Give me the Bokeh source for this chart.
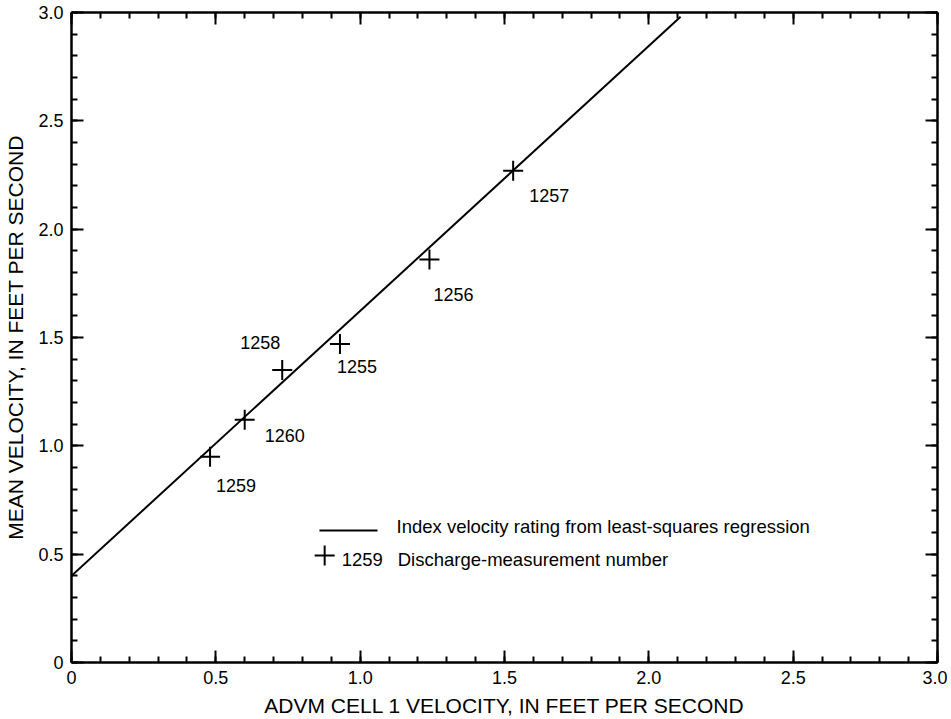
from bokeh.plotting import figure
from bokeh.models import Range1d, LinearAxis, FixedTicker, CustomJSTickFormatter, ColumnDataSource
from bokeh.core.properties import value
from bokeh.embed import file_html
from bokeh.resources import INLINE

# ---------------- data ----------------
meas_numbers = ["1255", "1256", "1257", "1258", "1259", "1260"]
advm_velocity = [0.93, 1.24, 1.53, 0.73, 0.48, 0.60]   # ADVM cell 1 velocity, ft/s
mean_velocity = [1.47, 1.86, 2.27, 1.35, 0.95, 1.12]   # mean velocity, ft/s

# index velocity rating (least-squares regression) end points
rating_x = [0.0, 2.11]
rating_y = [0.40, 2.98]

x_tick_values = [0.0, 0.5, 1.0, 1.5, 2.0, 2.5, 3.0]
y_tick_values = [0.0, 0.5, 1.0, 1.5, 2.0, 2.5, 3.0]

legend_line_label = "Index velocity rating from least-squares regression"
legend_point_number = "1259"
legend_point_label = "Discharge-measurement number"

# ---------------- layout / style ----------------
FONT = "Liberation Sans"
label_dx = [-3, 4, 16, -42, 6, 20]     # pixel offsets of point labels
label_dy = [22, 35, 25, -28, 29, 16]

p = figure(frame_width=866, frame_height=650,
           x_range=Range1d(0, 3), y_range=Range1d(0, 3),
           output_backend="svg", toolbar_location=None,
           min_border_left=71, min_border_right=10, min_border_top=12, min_border_bottom=57,
           x_axis_label="ADVM CELL 1 VELOCITY, IN FEET PER SECOND",
           y_axis_label="MEAN VELOCITY, IN FEET PER SECOND")
p.grid.visible = False
p.outline_line_color = None
p.background_fill_color = "white"
p.border_fill_color = "white"

minor = [round(i * 0.1, 1) for i in range(31)]
xticker = FixedTicker(ticks=x_tick_values, minor_ticks=minor)
yticker = FixedTicker(ticks=y_tick_values, minor_ticks=minor)
fmt_code = "return tick == 0 ? '0' : tick.toFixed(1);"


def style_axis(ax):
    ax.axis_line_width = 2.5
    ax.axis_line_color = "black"
    ax.major_tick_in = 12
    ax.major_tick_out = 0
    ax.minor_tick_in = 6
    ax.minor_tick_out = 0
    ax.major_tick_line_width = 2
    ax.minor_tick_line_width = 2
    ax.major_tick_line_color = "black"
    ax.minor_tick_line_color = "black"
    ax.major_label_text_font = FONT
    ax.major_label_text_font_size = "18px"
    ax.major_label_text_color = "black"
    ax.axis_label_text_font = FONT
    ax.axis_label_text_font_size = "21px"
    ax.axis_label_text_font_style = "normal"
    ax.axis_label_text_color = "black"


for ax in p.xaxis:
    ax.ticker = xticker
    ax.formatter = CustomJSTickFormatter(code=fmt_code)
    style_axis(ax)
    ax.major_label_standoff = 8
    ax.axis_label_standoff = 7
for ax in p.yaxis:
    ax.ticker = yticker
    ax.formatter = CustomJSTickFormatter(code=fmt_code)
    style_axis(ax)
    ax.major_label_standoff = 8
    ax.axis_label_standoff = 8

top = LinearAxis(ticker=xticker, formatter=CustomJSTickFormatter(code="return '';"))
style_axis(top)
top.major_label_text_font_size = "0px"
top.major_label_standoff = 0
p.add_layout(top, "above")

right = LinearAxis(ticker=yticker, formatter=CustomJSTickFormatter(code="return '';"))
style_axis(right)
right.major_label_text_font_size = "0px"
right.major_label_standoff = 0
p.add_layout(right, "right")

# regression line
p.line(rating_x, rating_y, line_width=2, line_color="black")

# measurements
src = ColumnDataSource(dict(x=advm_velocity, y=mean_velocity, t=meas_numbers,
                            dx=label_dx, dy=label_dy))
p.scatter("x", "y", source=src, marker="cross", size=20, line_width=2, line_color="black")
p.text("x", "y", text="t", source=src, x_offset="dx", y_offset="dy",
       text_font=value(FONT), text_font_size="18px", text_color="black",
       text_align="left", text_baseline="middle")

# legend (drawn in data space)
p.line([0.859, 1.060], [0.609, 0.609], line_width=2, line_color="black")
p.text([1.126], [0.630], text=[legend_line_label], text_font=value(FONT),
       text_font_size="18.5px", text_color="black", text_align="left", text_baseline="middle")
p.scatter([0.877], [0.494], marker="cross", size=20, line_width=2, line_color="black")
p.text([0.936], [0.477], text=[legend_point_number], text_font=value(FONT),
       text_font_size="18.5px", text_color="black", text_align="left", text_baseline="middle")
p.text([1.130], [0.477], text=[legend_point_label], text_font=value(FONT),
       text_font_size="18.5px", text_color="black", text_align="left", text_baseline="middle")

open("out.html", "w").write(file_html(p, INLINE))
